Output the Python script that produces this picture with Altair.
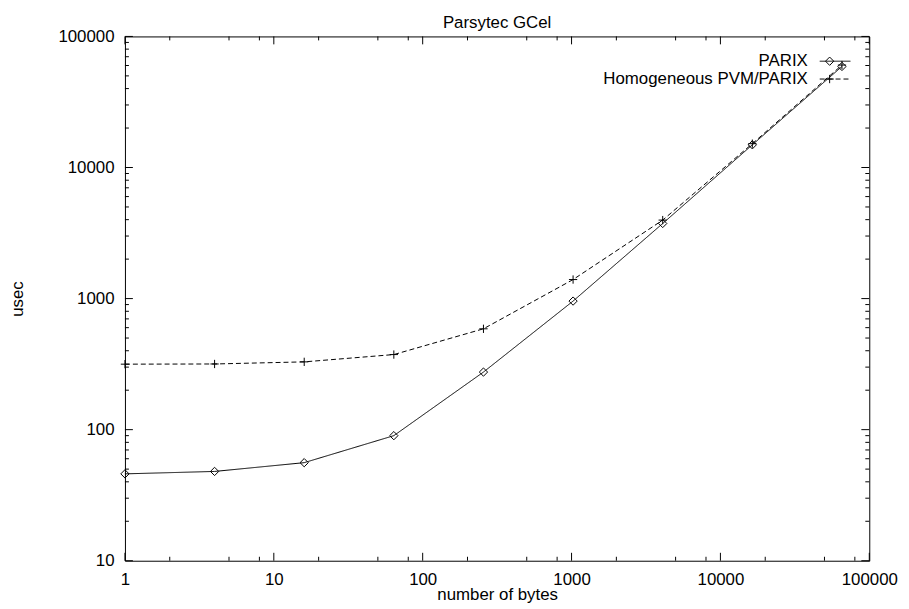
import altair as alt
import pandas as pd

# ---- data ----
bytes_sizes = [1, 4, 16, 64, 256, 1024, 4096, 16384, 65536]
parix_usec = [46, 48, 56, 90, 275, 957, 3740, 14900, 59000]
pvm_usec = [316, 317, 329, 374, 588, 1397, 3970, 15200, 60500]
series_names = ["PARIX", "Homogeneous PVM/PARIX"]
chart_title = ["Parsytec GCel"]

x_major = [1, 10, 100, 1000, 10000, 100000]
x_minor = [m * 10 ** k for k in range(5) for m in (2, 5, 8)]
y_major = [10, 100, 1000, 10000, 100000]
y_minor = [m * 10 ** k for k in range(1, 5) for m in range(2, 10)]

FONT = "Liberation Sans"
FS = 17
W, H = 751, 529
PLUS = "M-1,0L1,0M0,-1L0,1"

df = pd.DataFrame({
    "bytes": bytes_sizes * 2,
    "usec": parix_usec + pvm_usec,
    "series": [series_names[0]] * len(bytes_sizes) + [series_names[1]] * len(bytes_sizes),
})

xs = alt.Scale(type="log", domain=[1, 100000], nice=False)
ys = alt.Scale(type="log", domain=[10, 100000], nice=False)

xaxis = alt.Axis(
    values=x_major, format="d", title="number of bytes",
    ticks=False, domain=False, grid=False,
    labelFont=FONT, labelFontSize=FS, labelColor="#000",
    labelPadding=24, labelBaseline="alphabetic", labelFlush=False, labelOverlap=False,
    titleFont=FONT, titleFontSize=FS, titleFontWeight="normal", titleColor="#000",
    titleX=W / 2, titleY=39, titleBaseline="alphabetic", titleAlign="center",
)
yaxis = alt.Axis(
    values=y_major, format="d", title="usec",
    ticks=False, domain=False, grid=False,
    labelFont=FONT, labelFontSize=FS, labelColor="#000",
    labelPadding=11, labelFlush=False, labelOverlap=False,
    titleFont=FONT, titleFontSize=FS, titleFontWeight="normal", titleColor="#000",
    titleX=-108, titleY=H / 2, titleAngle=270, titleBaseline="middle", titleAlign="center",
)

X = alt.X("bytes:Q", scale=xs, axis=xaxis)
Y = alt.Y("usec:Q", scale=ys, axis=yaxis)

dash_scale = alt.Scale(domain=series_names, range=[[1, 0], [5, 3]])
shape_scale = alt.Scale(domain=series_names, range=["diamond", PLUS])

lines = alt.Chart(df).mark_line(color="black", strokeWidth=1).encode(
    x=X, y=Y,
    strokeDash=alt.StrokeDash("series:N", scale=dash_scale, legend=None),
    detail="series:N",
)

points = alt.Chart(df).mark_point(filled=False, color="black", strokeWidth=1, size=70, opacity=1).encode(
    x=X, y=Y,
    shape=alt.Shape("series:N", scale=shape_scale, legend=None),
)


def x_ticks(vals, length):
    d = pd.DataFrame({"bytes": vals})
    base = alt.Chart(d).mark_rule(color="black", strokeWidth=1)
    bottom = base.encode(x=X, y=alt.value(H), y2=alt.value(H - length))
    top = base.encode(x=X, y=alt.value(0), y2=alt.value(length))
    return [bottom, top]


def y_ticks(vals, length):
    d = pd.DataFrame({"usec": vals})
    base = alt.Chart(d).mark_rule(color="black", strokeWidth=1)
    left = base.encode(y=Y, x=alt.value(0), x2=alt.value(length))
    right = base.encode(y=Y, x=alt.value(W), x2=alt.value(W - length))
    return [left, right]


tick_layers = x_ticks(x_major, 8) + x_ticks(x_minor, 4) + y_ticks(y_major, 8) + y_ticks(y_minor, 4)

# ---- title as text above the plot ----
title_layer = alt.Chart(pd.DataFrame({"t": chart_title})).mark_text(
    align="center", baseline="alphabetic", font=FONT, fontSize=FS, color="#000"
).encode(x=alt.value(W / 2), y=alt.value(-9), text="t:N")

# ---- key (top-right, inside plot) ----
legend_layers = []
key_rows = [(series_names[0], 25, [1, 0], "diamond"), (series_names[1], 43, [5, 3], PLUS)]
for name, ky, dash, shp in key_rows:
    one = pd.DataFrame({"label": [name]})
    legend_layers.append(
        alt.Chart(one).mark_text(align="right", baseline="middle", font=FONT, fontSize=FS, color="#000").encode(
            x=alt.value(689), y=alt.value(ky), text="label:N"
        )
    )
    legend_layers.append(
        alt.Chart(one).mark_rule(color="black", strokeWidth=1, strokeDash=dash).encode(
            x=alt.value(701), x2=alt.value(732), y=alt.value(ky)
        )
    )
    legend_layers.append(
        alt.Chart(one).mark_point(shape=shp, filled=False, color="black", strokeWidth=1, size=70, opacity=1).encode(
            x=alt.value(711), y=alt.value(ky)
        )
    )

chart = alt.layer(lines, *tick_layers, points, title_layer, *legend_layers).properties(
    width=W,
    height=H,
    padding={"left": 118, "top": 26, "right": 32, "bottom": 44},
    autosize=alt.AutoSizeParams(type="none"),
    background="white",
).configure_view(stroke="black", strokeWidth=1)

chart.save("out.html", embed_options={"renderer": "svg", "actions": False})
